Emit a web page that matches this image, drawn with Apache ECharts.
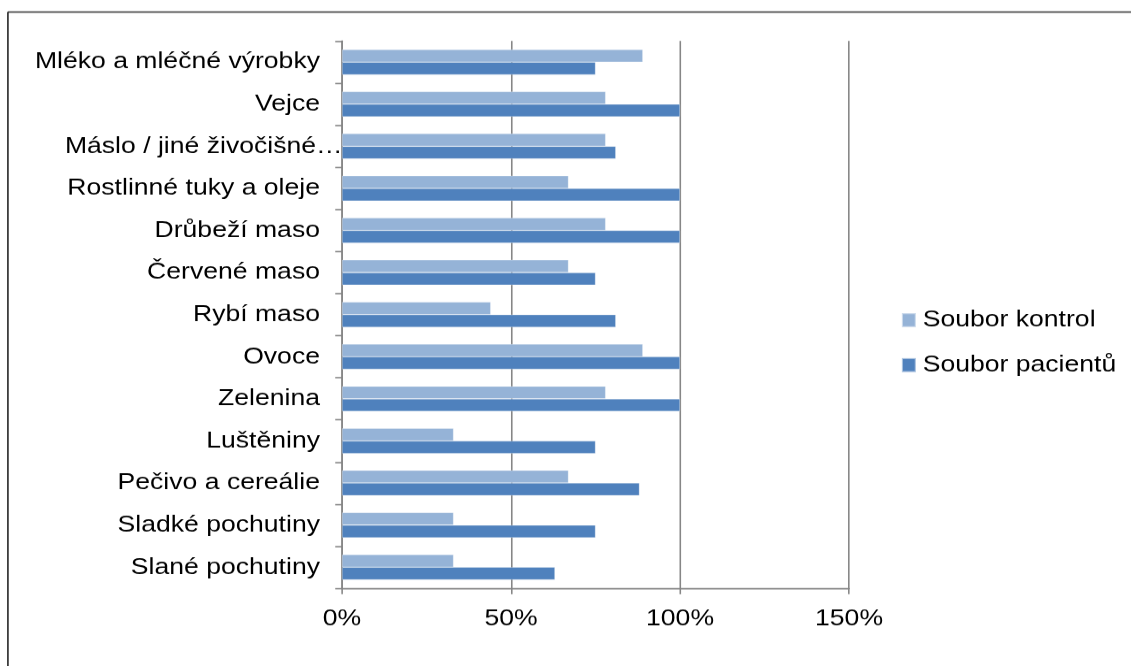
<!DOCTYPE html>
<html>
<head>
<meta charset="utf-8">
<script src="https://cdn.jsdelivr.net/npm/echarts@6/dist/echarts.min.js"></script>
<style>
  html, body { margin: 0; padding: 0; background: #fff; overflow: hidden; }
  /* the chart is laid out 1000px wide and stretched to fill the 1131px page */
  #chart { width: 1000px; height: 666px; transform: scaleX(1.131); transform-origin: 0 0; }
</style>
</head>
<body>
<div id="chart"></div>
<script>
// Food groups, listed top to bottom
const categories = [
  'Mléko a mléčné výrobky',
  'Vejce',
  'Máslo / jiné živočišné…',
  'Rostlinné tuky a oleje',
  'Drůbeží maso',
  'Červené maso',
  'Rybí maso',
  'Ovoce',
  'Zelenina',
  'Luštěniny',
  'Pečivo a cereálie',
  'Sladké pochutiny',
  'Slané pochutiny'
];

// Share of respondents (%)
const kontrol = [89, 78, 78, 67, 78, 67, 44, 89, 78, 33, 67, 33, 33];
const pacienti = [75, 100, 81, 100, 100, 75, 81, 100, 100, 75, 88, 75, 63];

const seriesNames = ['Soubor kontrol', 'Soubor pacientů'];
const xTicks = [0, 50, 100, 150];

const FONT = '"Liberation Sans", Arial, sans-serif';
const AXIS_GREY = '#868686';
const FONT_SIZE = 23.5;

const chart = echarts.init(document.getElementById('chart'), null, {
  renderer: 'canvas',
  devicePixelRatio: 1.131
});

chart.setOption({
  animation: false,
  backgroundColor: '#ffffff',
  textStyle: { fontFamily: FONT },
  graphic: [
    { type: 'line', shape: { x1: 7, y1: 12, x2: 1000, y2: 12 }, style: { stroke: '#4d4d4d', lineWidth: 1.5 } },
    { type: 'line', shape: { x1: 7, y1: 12, x2: 7, y2: 666 }, style: { stroke: '#222222', lineWidth: 1.4 } }
  ],
  grid: { left: 302.4, right: 249.3, top: 41, bottom: 78, containLabel: false },
  legend: {
    orient: 'vertical',
    left: 796.4,
    top: 308,
    padding: 0,
    itemWidth: 12.4,
    itemHeight: 14,
    itemGap: 21,
    icon: 'rect',
    data: seriesNames,
    textStyle: { fontFamily: FONT, fontSize: FONT_SIZE, color: '#000', padding: [0, 0, 0, 1] }
  },
  xAxis: {
    type: 'value',
    min: xTicks[0],
    max: xTicks[xTicks.length - 1],
    interval: 50,
    axisLine: { show: true, lineStyle: { color: AXIS_GREY, width: 1.4 } },
    axisTick: { show: true, length: 6, lineStyle: { color: AXIS_GREY, width: 1.4 } },
    splitLine: { show: true, lineStyle: { color: AXIS_GREY, width: 1.4 } },
    axisLabel: {
      margin: 19,
      fontFamily: FONT,
      fontSize: FONT_SIZE,
      color: '#000',
      formatter: v => v + '%'
    }
  },
  yAxis: {
    type: 'category',
    inverse: true,
    data: categories,
    axisLine: { show: true, lineStyle: { color: AXIS_GREY, width: 1.4 } },
    axisTick: { show: true, length: 6, lineStyle: { color: AXIS_GREY, width: 1.4 } },
    axisLabel: {
      margin: 19.5,
      fontFamily: FONT,
      fontSize: FONT_SIZE,
      color: '#000',
      // the shortened label runs on up to the axis line
      formatter: v => v.endsWith('…') ? '{long|' + v + '}' : v,
      rich: {
        long: { fontFamily: FONT, fontSize: FONT_SIZE, color: '#000', padding: [0, -20, 0, 0] }
      }
    }
  },
  series: [
    {
      name: seriesNames[0],
      type: 'bar',
      data: kontrol,
      barWidth: '30%',
      barGap: '0%',
      itemStyle: { color: '#95b3d7', borderColor: 'rgba(255,255,255,0.5)', borderWidth: 0.5 }
    },
    {
      name: seriesNames[1],
      type: 'bar',
      data: pacienti,
      barWidth: '30%',
      barGap: '0%',
      itemStyle: { color: '#4f81bd', borderColor: 'rgba(255,255,255,0.5)', borderWidth: 0.5 }
    }
  ]
});
</script>
</body>
</html>
